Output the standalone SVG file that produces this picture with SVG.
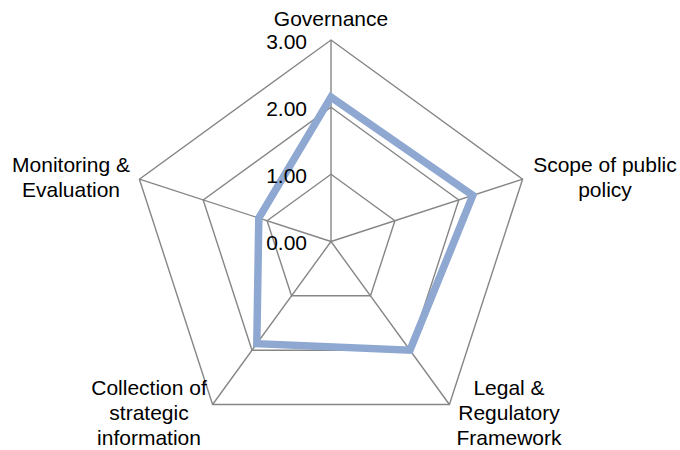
<svg xmlns="http://www.w3.org/2000/svg" width="680" height="450" viewBox="0 0 680 450">
<style>
.grid{fill:none;stroke:#868686;stroke-width:1.4}
.data{fill:none;stroke:#8EA8D1;stroke-width:7.5;stroke-linejoin:miter}
text{font-family:"Liberation Sans",Arial,sans-serif;font-size:21px;fill:#000}
.c{text-anchor:middle}
.r{text-anchor:end}
</style>
<rect width="680" height="450" fill="#fff"/>
<g id="grid">
<polygon class="grid" points="331,40 522.6,179.2 449.4,404.5 212.6,404.5 139.4,179.2"/>
<polygon class="grid" points="331,107.2 458.8,200 410,350.2 252,350.2 203.2,200"/>
<polygon class="grid" points="331,174.3 394.9,220.7 370.5,295.8 291.5,295.8 267.1,220.7"/>
</g>
<g id="connectors">
<line class="grid" x1="331" y1="241.5" x2="331" y2="40"/>
<line class="grid" x1="331" y1="241.5" x2="522.6" y2="179.2"/>
<line class="grid" x1="331" y1="241.5" x2="449.4" y2="404.5"/>
<line class="grid" x1="331" y1="241.5" x2="212.6" y2="404.5"/>
<line class="grid" x1="331" y1="241.5" x2="139.4" y2="179.2"/>
</g>
<g id="series">
<polygon class="data" points="331,97.1 472.8,195.4 410,350.2 256.8,343.7 258.8,218"/>
</g>
<g id="scale">
<text class="r" x="307" y="49">3.00</text>
<text class="r" x="307" y="116">2.00</text>
<text class="r" x="307" y="183">1.00</text>
<text class="r" x="307" y="250">0.00</text>
</g>
<g id="governance"><text class="c" x="331" y="26">Governance</text></g>
<g id="scope"><text class="c" x="605" y="172">Scope of public</text><text class="c" x="605" y="197">policy</text></g>
<g id="legal"><text class="c" x="509" y="395">Legal &amp;</text><text class="c" x="509" y="420">Regulatory</text><text class="c" x="509" y="445">Framework</text></g>
<g id="collection"><text class="c" x="149" y="395">Collection of</text><text class="c" x="149" y="420">strategic</text><text class="c" x="149" y="445">information</text></g>
<g id="monitoring"><text class="c" x="71" y="172">Monitoring &amp;</text><text class="c" x="71" y="197">Evaluation</text></g>
</svg>
